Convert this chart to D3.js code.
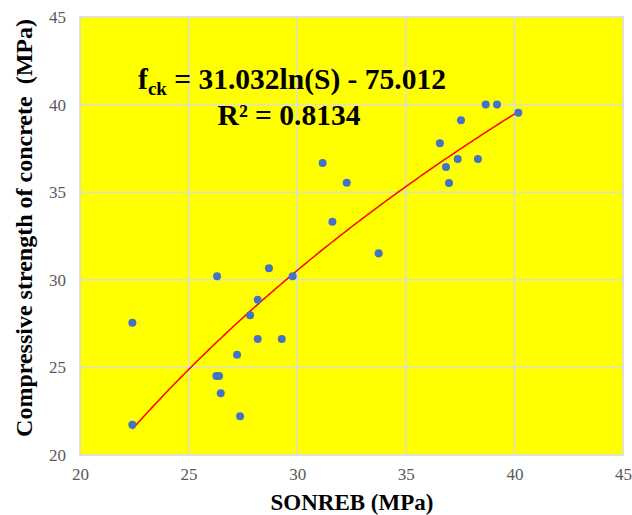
<!DOCTYPE html>
<html>
<head>
<meta charset="utf-8">
<script src="https://cdn.jsdelivr.net/npm/d3@7"></script>
<style>
  html, body { margin: 0; padding: 0; background: #ffffff; }
  svg { display: block; }
</style>
</head>
<body>
<svg id="chart" width="632" height="515"></svg>
<script>
// ---- data ----
const sonreb   = [22.41, 22.41, 26.28, 26.40, 26.31, 26.48, 27.23, 27.37, 27.83, 28.18, 28.18, 28.70, 29.29, 29.79, 31.17, 31.62, 32.28, 33.75, 36.57, 36.85, 36.99, 37.39, 37.54, 38.32, 38.68, 39.20, 40.18];
const strength = [27.55, 21.73, 24.51, 24.51, 30.20, 23.52, 25.72, 22.21, 27.97, 28.86, 26.62, 30.66, 26.62, 30.20, 36.67, 33.32, 35.54, 31.51, 37.79, 36.44, 35.53, 36.89, 39.10, 36.89, 40.00, 40.00, 39.54];
const xTicks = [20, 25, 30, 35, 40, 45];
const yTicks = [20, 25, 30, 35, 40, 45];
const trendA = 31.032, trendB = -75.012;
const rSquared = "0.8134";
const xTitle = "SONREB (MPa)";
const yTitle = "Compressive strength of concrete\u00a0 (MPa)";

// ---- layout ----
const svg = d3.select("#chart");
const L = 80, R = 623, T = 17, B = 455;
const x = d3.scaleLinear().domain([20, 45]).range([L, R]);
const y = d3.scaleLinear().domain([20, 45]).range([B, T]);
const serif = "'Liberation Serif', 'Times New Roman', serif";

// plot background
svg.append("rect").attr("x", L).attr("y", T).attr("width", R - L).attr("height", B - T)
  .attr("fill", "#ffff00").attr("stroke", "#d9d9d9").attr("stroke-width", 1.5);

// gridlines
const grid = svg.append("g");
grid.selectAll("line.v").data(xTicks.slice(1, -1)).enter().append("line")
  .attr("x1", d => x(d)).attr("x2", d => x(d)).attr("y1", T).attr("y2", B)
  .attr("stroke", "#dcdcdc").attr("stroke-width", 1.5);
grid.selectAll("line.h").data(yTicks.slice(1, -1)).enter().append("line")
  .attr("y1", d => y(d)).attr("y2", d => y(d)).attr("x1", L).attr("x2", R)
  .attr("stroke", "#dcdcdc").attr("stroke-width", 1.5);

// axes (labels only)
const xAxis = d3.axisBottom(x).tickValues(xTicks).tickSize(0).tickPadding(0);
const gx = svg.append("g").attr("transform", `translate(0,${B + 13})`).call(xAxis);
gx.select(".domain").remove();
gx.selectAll("text").attr("font-family", serif).attr("font-size", 17).attr("fill", "#595959").attr("dy", "0.71em");

const yAxis = d3.axisLeft(y).tickValues(yTicks).tickSize(0).tickPadding(0);
const gy = svg.append("g").attr("transform", `translate(${L - 14},0)`).call(yAxis);
gy.select(".domain").remove();
gy.selectAll("text").attr("font-family", serif).attr("font-size", 17).attr("fill", "#595959");

// trendline
const xs = d3.range(d3.min(sonreb), d3.max(sonreb) + 0.001, 0.1);
const line = d3.line().x(d => x(d)).y(d => y(trendA * Math.log(d) + trendB));
svg.append("path").datum(xs).attr("d", line)
  .attr("fill", "none").attr("stroke", "#ff0000").attr("stroke-width", 1.5);

// points
svg.append("g").selectAll("circle").data(sonreb.map((d, i) => [d, strength[i]])).enter()
  .append("circle").attr("cx", d => x(d[0])).attr("cy", d => y(d[1])).attr("r", 4)
  .attr("fill", "#4472c4");

// equation
const eq = svg.append("text").attr("x", 292).attr("y", 89).attr("text-anchor", "middle")
  .attr("font-family", serif).attr("font-weight", "bold").attr("font-size", 29.5).attr("fill", "#000");
eq.append("tspan").text("f");
eq.append("tspan").attr("font-size", 19).attr("dy", 6).text("ck");
eq.append("tspan").attr("dy", -6).text(` = ${trendA}ln(S) - ${Math.abs(trendB).toFixed(3)}`);
svg.append("text").attr("x", 289).attr("y", 125).attr("text-anchor", "middle")
  .attr("font-family", serif).attr("font-weight", "bold").attr("font-size", 29.5).attr("fill", "#000")
  .text(`R\u00b2 = ${rSquared}`);

// axis titles
svg.append("text").attr("x", 352).attr("y", 510).attr("text-anchor", "middle")
  .attr("font-family", serif).attr("font-weight", "bold").attr("font-size", 23).attr("fill", "#000")
  .text(xTitle);
svg.append("text").attr("transform", "translate(32,228) rotate(-90)").attr("text-anchor", "middle")
  .attr("font-family", serif).attr("font-weight", "bold").attr("font-size", 24).attr("fill", "#000")
  .text(yTitle);
</script>
</body>
</html>
